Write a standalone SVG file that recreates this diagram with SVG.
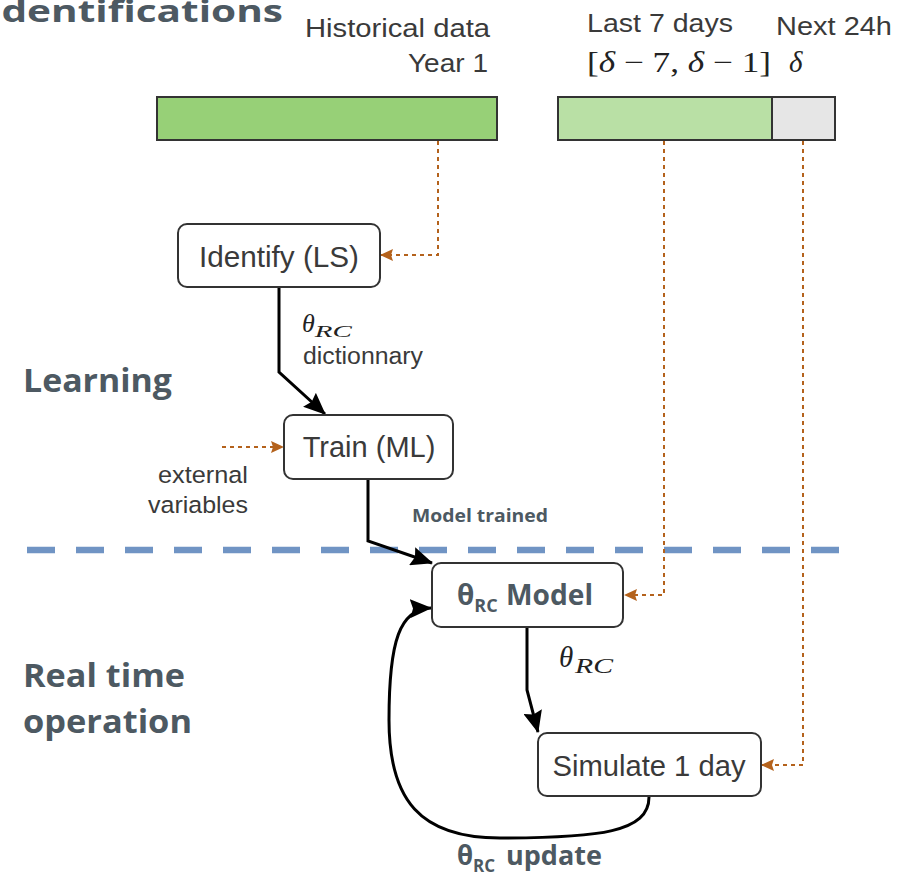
<svg xmlns="http://www.w3.org/2000/svg" width="908" height="877" viewBox="0 0 908 877">
<style>
.sec{font-family:"Open Sans","Liberation Sans",sans-serif;font-weight:700;fill:#4d5962}
.lbl{font-family:"Liberation Sans",Arial,sans-serif;fill:#3a3a3a}
.math{font-family:"Liberation Serif","DejaVu Serif",serif;font-style:italic;fill:#222}
.box{fill:#fff;stroke:#333;stroke-width:2}
.bar{stroke:#333;stroke-width:2}
.dot{fill:none;stroke:#b4621c;stroke-width:2;stroke-dasharray:4 4}
.blk{fill:none;stroke:#000;stroke-width:3}
</style>
<defs>
<marker id="ab" viewBox="0 0 22 19" refX="21" refY="9.5" markerWidth="22" markerHeight="19" markerUnits="userSpaceOnUse" orient="auto">
<path d="M0,0 L22,9.5 L0,19 L3,9.5 z" fill="#000"/>
</marker>
<marker id="ao" viewBox="0 0 13 12" refX="12" refY="6" markerWidth="13" markerHeight="12" markerUnits="userSpaceOnUse" orient="auto">
<path d="M0,0 L13,6 L0,12 L2,6 z" fill="#b4621c"/>
</marker>
</defs>
<rect width="908" height="877" fill="#fff"/>

<!-- titles -->
<text class="sec" x="-12" y="22" font-size="30" textLength="295" lengthAdjust="spacingAndGlyphs">Identifications</text>
<text class="sec" x="23" y="392" font-size="33" textLength="149" lengthAdjust="spacingAndGlyphs">Learning</text>
<text class="sec" x="23" y="687" font-size="33" textLength="162" lengthAdjust="spacingAndGlyphs">Real time</text>
<text class="sec" x="23" y="733" font-size="33" textLength="169" lengthAdjust="spacingAndGlyphs">operation</text>

<!-- data bars -->
<g id="historical">
<rect class="bar" x="157" y="97" width="340" height="43" fill="#97d077"/>
<text class="lbl" x="490" y="37" font-size="25" text-anchor="end" textLength="185" lengthAdjust="spacingAndGlyphs">Historical data</text>
<text class="lbl" x="488" y="72" font-size="25" text-anchor="end" textLength="80" lengthAdjust="spacingAndGlyphs">Year 1</text>
</g>
<g id="recent">
<rect class="bar" x="558" y="97" width="214" height="43" fill="#b9e0a5"/>
<rect class="bar" x="772" y="97" width="63" height="43" fill="#e6e6e6"/>
<text class="lbl" x="587" y="32" font-size="26" textLength="146" lengthAdjust="spacingAndGlyphs">Last 7 days</text>
<text class="lbl" x="776" y="35" font-size="26" textLength="116" lengthAdjust="spacingAndGlyphs">Next 24h</text>
<text x="587" y="72" font-size="29" font-family="Liberation Serif,serif" fill="#222" textLength="184" lengthAdjust="spacingAndGlyphs">[<tspan font-style="italic">δ</tspan> − 7, <tspan font-style="italic">δ</tspan> − 1]</text>
<text class="math" x="789" y="72" font-size="29">δ</text>
</g>

<!-- separator -->
<line x1="27" y1="550" x2="843" y2="550" stroke="#7094c4" stroke-width="6.5" stroke-dasharray="28 21"/>

<!-- connectors -->
<g id="connectors">
<path class="dot" d="M438,141 V255 H381" marker-end="url(#ao)"/>
<path class="dot" d="M664,141 V595 H625" marker-end="url(#ao)"/>
<path class="dot" d="M803,141 V765 H762" marker-end="url(#ao)"/>
<path class="dot" d="M222,447 H283" stroke-dasharray="6 4" marker-end="url(#ao)"/>
<path class="blk" d="M279,288 V372 L325,414" marker-end="url(#ab)"/>
<path class="blk" d="M368,479 V541 L432,563" marker-end="url(#ab)"/>
<path class="blk" d="M527,627 V690 L538,732" marker-end="url(#ab)"/>
<path class="blk" d="M649,797 C649,832 600,838 500,838 C420,838 389,800 389,720 C389,640 400,609 431,608" marker-end="url(#ab)"/>
</g>

<!-- connector labels -->
<text class="math" x="302" y="332" font-size="26">θ<tspan font-size="16" dy="5" textLength="37" lengthAdjust="spacingAndGlyphs">RC</tspan></text>
<text class="lbl" x="303" y="364" font-size="23" textLength="120" lengthAdjust="spacingAndGlyphs">dictionnary</text>
<text class="lbl" x="248" y="483" font-size="24.5" text-anchor="end" textLength="90" lengthAdjust="spacingAndGlyphs">external</text>
<text class="lbl" x="248" y="513" font-size="24.5" text-anchor="end" textLength="100" lengthAdjust="spacingAndGlyphs">variables</text>
<text class="sec" x="412" y="522" font-size="18" textLength="136" lengthAdjust="spacingAndGlyphs">Model trained</text>
<text class="math" x="559" y="667" font-size="29">θ</text>
<text class="math" x="575" y="673" font-size="22" textLength="38" lengthAdjust="spacingAndGlyphs">RC</text>
<text class="sec" x="457" y="865" font-size="26">θ<tspan font-size="17" dy="7">RC</tspan><tspan dy="-7" x="506" textLength="96" lengthAdjust="spacingAndGlyphs">update</tspan></text>

<!-- nodes -->
<g id="identify">
<rect class="box" x="178" y="224" width="202" height="63" rx="9"/>
<text class="lbl" x="279" y="267" font-size="29" text-anchor="middle" textLength="160" lengthAdjust="spacingAndGlyphs">Identify (LS)</text>
</g>
<g id="train">
<rect class="box" x="284" y="415" width="169" height="64" rx="9"/>
<text class="lbl" x="369" y="457" font-size="29" text-anchor="middle">Train (ML)</text>
</g>
<g id="model">
<rect class="box" x="432" y="563" width="191" height="64" rx="9"/>
<text class="sec" x="457" y="605" font-size="28">θ<tspan font-size="18" dy="7">RC</tspan><tspan dy="-7" x="506" textLength="87" lengthAdjust="spacingAndGlyphs">Model</tspan></text>
</g>
<g id="simulate">
<rect class="box" x="538" y="733" width="223" height="63" rx="9"/>
<text class="lbl" x="649" y="776" font-size="29" text-anchor="middle" textLength="193" lengthAdjust="spacingAndGlyphs">Simulate 1 day</text>
</g>
</svg>
